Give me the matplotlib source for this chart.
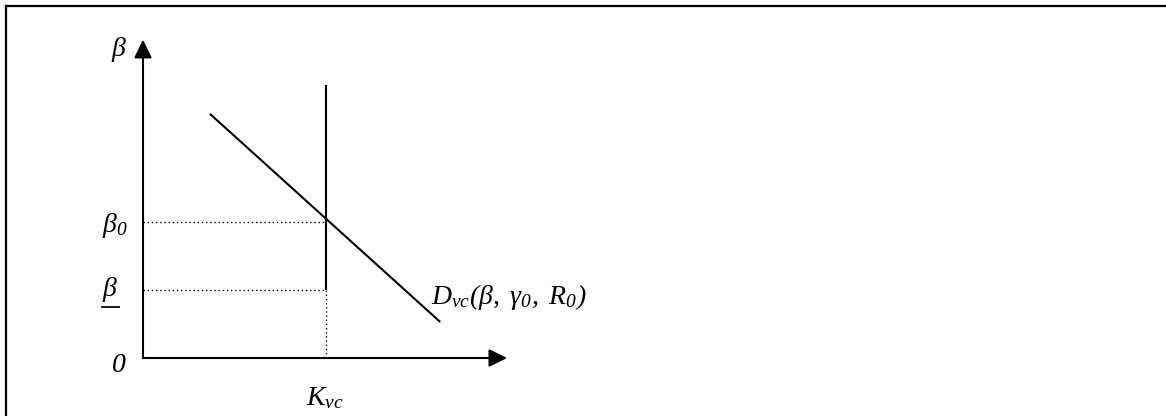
import matplotlib
matplotlib.use('Agg')
import matplotlib.pyplot as plt
from matplotlib.lines import Line2D

plt.rcParams['font.family'] = 'Liberation Serif'
plt.rcParams['mathtext.fontset'] = 'custom'
# all labels are italic, digits and brackets included
plt.rcParams['mathtext.rm'] = 'Liberation Serif:italic'
plt.rcParams['mathtext.it'] = 'Liberation Serif:italic'

# model values (quantity on x, beta on y)
k_vc = 1.0
beta_0 = 1.0
beta_low = 0.5
supply_top = 2.01
demand_x = [0.37, 1.62]
demand_y = [1.79, 0.27]
x_axis_end = 1.99
y_axis_end = 2.34

W, H = 1166, 416
ox, oy = 143, 358       # origin in pixels
sx, sy = 183, 136       # pixels per unit

fig = plt.figure(figsize=(W / 100, H / 100), dpi=100)
ax = fig.add_axes([0, 0, 1, 1])
ax.set_xlim(-ox / sx, (W - ox) / sx)
ax.set_ylim(-(H - oy) / sy, oy / sy)
ax.axis('off')

# frame (only top and left visible)
fig.add_artist(Line2D([6 / W, 1], [1 - 6 / H, 1 - 6 / H], transform=fig.transFigure, color='black', lw=1.6))
fig.add_artist(Line2D([6 / W, 6 / W], [1 - 6 / H, 0], transform=fig.transFigure, color='black', lw=1.6))

arrow = dict(arrowstyle='-|>,head_length=0.55,head_width=0.27', mutation_scale=20,
             lw=1.5, color='black', shrinkA=0, shrinkB=0)
ax.annotate('', xy=(0, y_axis_end), xytext=(0, 0), arrowprops=arrow)
ax.annotate('', xy=(x_axis_end, 0), xytext=(0, 0), arrowprops=arrow)

# supply (vertical) and demand lines
ax.plot([k_vc, k_vc], [beta_low, supply_top], color='black', lw=1.5, solid_capstyle='butt')
ax.plot(demand_x, demand_y, color='black', lw=1.5)

# dotted guides
dot = dict(color='black', lw=1.0, linestyle=(0, (1, 2)))
ax.plot([0, k_vc], [beta_0, beta_0], **dot)
ax.plot([0, k_vc], [beta_low, beta_low], **dot)
ax.plot([k_vc, k_vc], [0, beta_low], **dot)

fs = 20
def P(px, py):
    return ((px - ox) / sx, (oy - py) / sy)

ax.text(*P(119, 50), r'$\beta$', fontsize=fs, ha='center', va='center')
ax.text(*P(115, 226), r'$\beta_0$', fontsize=fs, ha='center', va='center')
ax.text(*P(110, 290), r'$\beta$', fontsize=fs, ha='center', va='center')
ax.plot(*zip(P(102, 307), P(119, 307)), color='black', lw=1.3)
ax.text(*P(119, 366), r'$0$', fontsize=fs, ha='center', va='center')
ax.text(*P(325, 398), r'$K_{vc}$', fontsize=fs, ha='center', va='center')
ax.text(*P(431, 297), r'$D_{vc}(\beta,\ \gamma_0,\ R_0)$', fontsize=fs, ha='left', va='center')

fig.savefig('out.png', dpi=100)
